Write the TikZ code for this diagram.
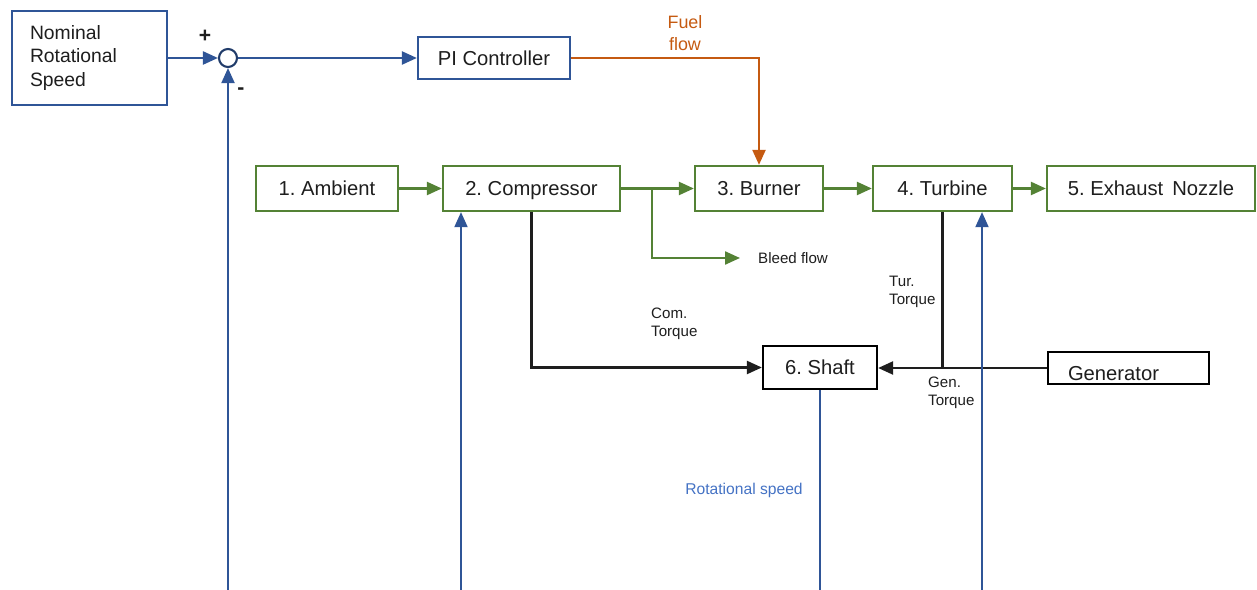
\documentclass[tikz,border=0pt]{standalone}
\usepackage{fontspec}
\setmainfont{Liberation Sans}
\usetikzlibrary{arrows.meta,positioning,calc}
\definecolor{ctrlblue}{RGB}{47,85,151}
\definecolor{gasgreen}{RGB}{84,130,53}
\definecolor{fuelorange}{RGB}{197,90,17}
\definecolor{speedblue}{RGB}{68,114,196}
\definecolor{ink}{RGB}{30,30,30}
\tikzset{
  >={Triangle[length=3mm,width=2.6mm]},
  block/.style={draw=#1,line width=1.3pt,fill=white,minimum height=9mm,align=center,
    font=\fontsize{11.5}{13}\selectfont,text=ink,inner sep=0pt,text height=0.3cm,text depth=0.01cm},
  block/.default=gasgreen,
  flow/.style={->,line width=1.3pt,draw=#1},
  flow/.default=gasgreen,
  speedline/.style={line width=1.1pt,draw=ctrlblue},
  tag/.style={font=\fontsize{8.6}{10.2}\selectfont,text=#1,align=left,anchor=west},
  tag/.default=ink,
  sign/.style={font=\bfseries\fontsize{12}{12}\selectfont,text=ink},
}

\begin{document}
\frenchspacing
\begin{tikzpicture}[x=0.02cm,y=-0.02cm]
  \useasboundingbox (0,0) rectangle (1257,590);
  % speed controller
  \node[block=ctrlblue,minimum width=3.1cm,minimum height=1.88cm,text width=2.38cm,align=left,
    text height={},text depth={},font=\fontsize{11}{13.6}\selectfont] (nominal) at (89.5,58) {Nominal\\Rotational\\Speed};
  \node[circle,draw=ctrlblue!70!black,line width=1.2pt,minimum size=0.36cm,inner sep=0pt] (sum) at (228,58) {};
  \node[block=ctrlblue,minimum width=3.04cm,minimum height=0.84cm] (pi) at (494,58) {PI Controller};
  \draw[flow=ctrlblue] (nominal.east |- sum.west) -- (sum.west);
  \draw[flow=ctrlblue] (sum.east) -- (sum.east -| pi.west);
  \node[sign] (plus) at (205,36) {+};
  \node[sign] (minus) at (241,91) {-};
  % gas path
  \node[block,minimum width=2.84cm] (amb) at (327,188.5) {1. Ambient};
  \node[block,minimum width=3.54cm] (comp) at (531.5,188.5) {2. Compressor};
  \node[block,minimum width=2.56cm] (burn) at (759,188.5) {3. Burner};
  \node[block,minimum width=2.78cm] (turb) at (942.5,188.5) {4. Turbine};
  \node[block,minimum width=4.16cm] (noz) at (1151,188.5) {5. Exhaust\, Nozzle};
  \foreach \a/\b in {amb/comp,comp/burn,burn/turb,turb/noz} \draw[flow] (\a) -- (\b);
  \coordinate (split) at (652,188.5);
  \coordinate (bleedend) at (740,258);
  \draw[flow] (split) |- (bleedend);
  \node[tag] (bleed) at (752,258) {Bleed flow};
  % fuel
  \draw[flow=fuelorange] (pi.east) -- (pi.east -| burn.north) -- (burn.north);
  \node[text=fuelorange,align=center,font=\fontsize{10.2}{12.5}\selectfont] (fuel) at (685,33) {Fuel\\flow};
  % torques
  \node[block=black,minimum width=2.28cm,minimum height=0.86cm] (shaft) at (820,367.5) {6. Shaft};
  \node[block=black,minimum width=3.22cm,minimum height=0.64cm,text width=2.42cm,align=left,
    text height=0.5cm,text depth=0pt] (gen) at (1128.5,368) {Generator};
  \draw[flow=ink] (comp.south) |- (shaft.west);
  \draw[flow=ink] (gen.west) -- (gen.west -| shaft.east);
  \draw[ink,line width=1.3pt] (turb.south) -- (turb.south |- gen.west);
  \node[tag] (comtq) at (645,324) {Com.\\Torque};
  \node[tag] (turtq) at (883,292) {Tur.\\Torque};
  \node[tag] (gentq) at (922,393) {Gen.\\Torque};
  % speed feedback
  \coordinate (fbsum) at (228,590);
  \coordinate (fbcomp) at (461,590);
  \coordinate (fbshaft) at (820,590);
  \coordinate (fbturb) at (982,590);
  \draw[speedline,->] (fbsum) -- (sum.south);
  \draw[speedline,->] (fbcomp) -- (fbcomp |- comp.south);
  \draw[speedline,->] (fbturb) -- (fbturb |- turb.south);
  \draw[speedline] (shaft.south) -- (fbshaft);
  \node[text=speedblue,font=\fontsize{8.9}{10}\selectfont] (speed) at (744,490) {Rotational speed};
\end{tikzpicture}
\end{document}
